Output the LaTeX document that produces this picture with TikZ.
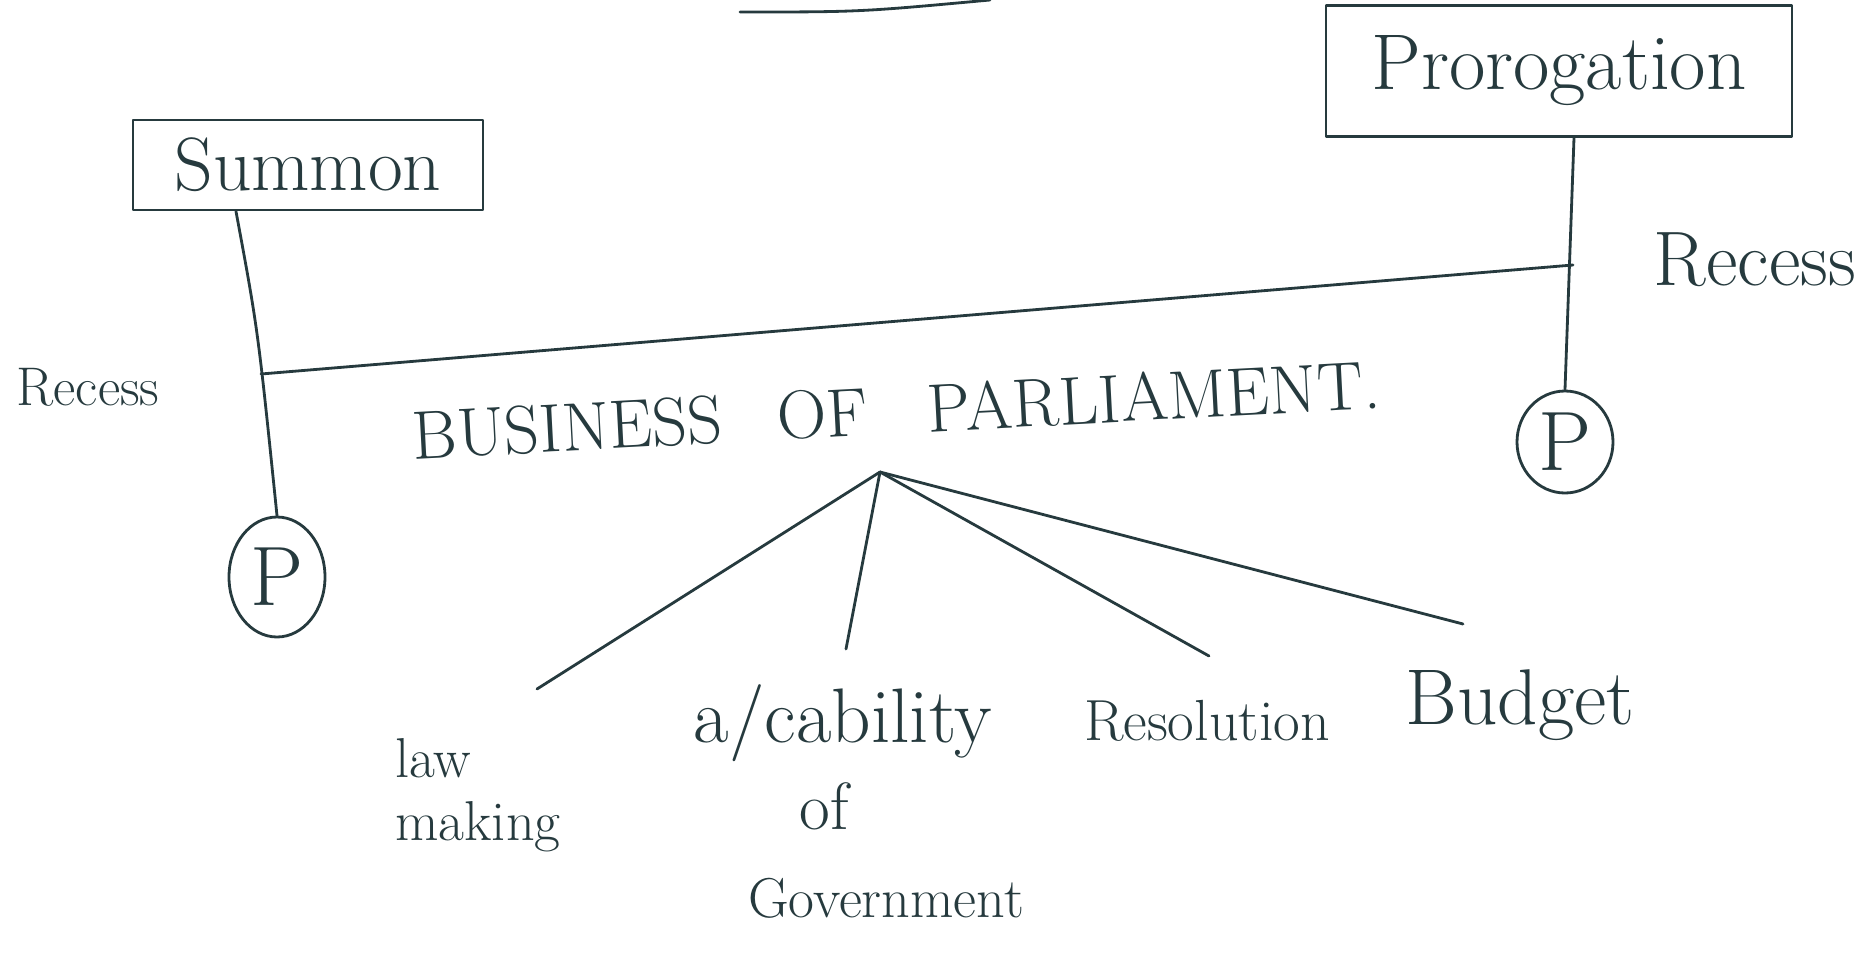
\documentclass[tikz,border=0pt]{standalone}
\usetikzlibrary{shapes.geometric}
\begin{document}
\begin{tikzpicture}[line cap=round,line join=round,scale=1.0]
  \definecolor{ink}{RGB}{38,58,62}
  \tikzset{
    pen/.style={draw=ink,thick},
    hand/.style={text=ink,inner sep=0pt},
    boxed/.style={draw=ink,thick,inner sep=0pt},
    pnode/.style={ellipse,draw=ink,thick,text=ink,inner sep=0pt,minimum width=0.96cm,minimum height=1.2cm,font=\fontsize{24}{28}\selectfont}
  }
  \useasboundingbox (0,0) rectangle (18.73,9.60);

  % line cut off at the top
  \coordinate (topa) at (7.40,9.48);
  \coordinate (topb) at (9.90,9.60);
  \draw[pen] (topa) .. controls (8.6,9.48) .. (topb);

  % summon / prorogation boxes
  \node[boxed,hand,minimum width=3.5cm,minimum height=0.9cm,font=\fontsize{21.5}{24}\selectfont] (summon) at (3.08,7.95) {Summon};
  \node[boxed,hand,minimum width=4.66cm,minimum height=1.31cm,font=\fontsize{22.5}{26}\selectfont] (prorog) at (15.59,8.89) {Prorogation};

  % the two P circles
  \node[pnode] (pl) at (2.77,3.83) {P};
  \node[pnode,minimum height=1.02cm] (pr) at (15.65,5.18) {P};

  % verticals
  \draw[pen] ([xshift=-0.72cm]summon.south) .. controls (2.58,6.3) .. (pl.north);
  \draw[pen] ([xshift=0.15cm]prorog.south) -- (pr.north);

  % business line between the verticals
  \coordinate (jl) at (2.61,5.86);
  \coordinate (jr) at (15.73,6.95);
  \draw[pen] (jl) -- (jr);

  % recess labels
  \node[hand,font=\fontsize{15.5}{18}\selectfont] (recl) at (0.88,5.73) {Recess};
  \node[hand,font=\fontsize{22}{26}\selectfont] (recr) at (17.55,7.00) {Recess};

  % title
  \node[hand,rotate=3,font=\fontsize{19.5}{22}\selectfont] (bus) at (8.96,5.50)
    {BUSINESS\hspace{0.55cm}OF\hspace{0.6cm}PARLIAMENT.};

  % branches
  \coordinate (root) at (8.80,4.88);
  \coordinate (elaw) at (5.37,2.71);
  \coordinate (eacc) at (8.46,3.11);
  \coordinate (eres) at (12.09,3.04);
  \coordinate (ebud) at (14.63,3.36);
  \foreach \e in {elaw,eacc,eres,ebud} { \draw[pen] (root) -- (\e); }

  % leaf labels
  \node[hand,align=left,font=\fontsize{16}{18}\selectfont] (law) at (4.78,1.65) {law\\making};
  \node[hand,font=\fontsize{22}{25}\selectfont] (acc) at (8.43,2.37) {a/cability};
  \node[hand,font=\fontsize{19}{22}\selectfont] (accof) at (8.24,1.54) {of};
  \node[hand,font=\fontsize{16}{19}\selectfont] (accgov) at (8.86,0.62) {Government};
  \node[hand,font=\fontsize{16.5}{19}\selectfont] (res) at (12.07,2.39) {Resolution};
  \node[hand,font=\fontsize{22.5}{26}\selectfont] (bud) at (15.20,2.55) {Budget};
\end{tikzpicture}
\end{document}
